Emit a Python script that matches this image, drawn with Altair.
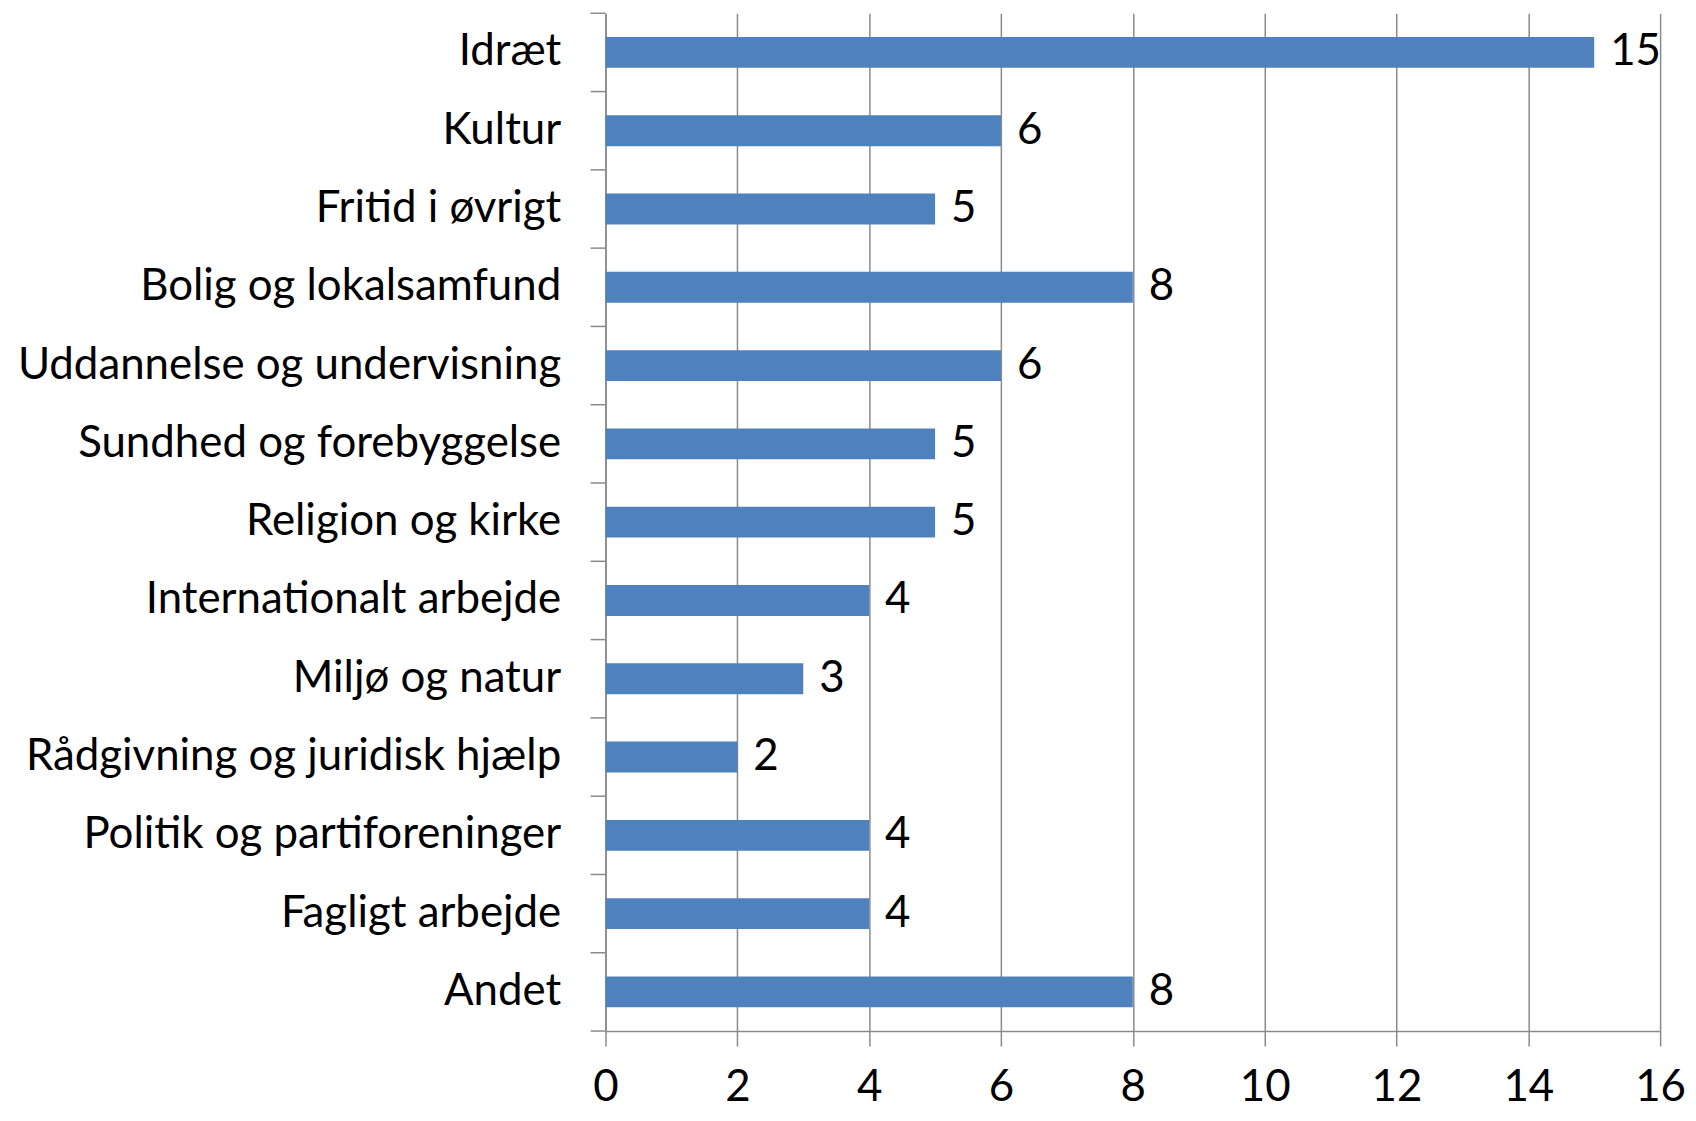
import altair as alt
import pandas as pd

categories = [
    "Idræt", "Kultur", "Fritid i øvrigt", "Bolig og lokalsamfund",
    "Uddannelse og undervisning", "Sundhed og forebyggelse", "Religion og kirke",
    "Internationalt arbejde", "Miljø og natur", "Rådgivning og juridisk hjælp",
    "Politik og partiforeninger", "Fagligt arbejde", "Andet",
]
values = [15, 6, 5, 8, 6, 5, 5, 4, 3, 2, 4, 4, 8]
x_ticks = [0, 2, 4, 6, 8, 10, 12, 14, 16]

df = pd.DataFrame({"kategori": categories, "antal": values})
df_last = df.tail(1)

FONT = "Lato"
FS = 44
GRAY = "#8a8a8a"

yscale = alt.Scale(paddingInner=0, paddingOuter=0)

y_axis = alt.Axis(
    title=None, ticks=False, domain=True, domainColor=GRAY, domainWidth=1.5,
    labelFont=FONT, labelFontSize=FS, labelColor="black", labelPadding=45,
    labelLimit=1000,
)

x_enc = alt.X(
    "antal:Q",
    scale=alt.Scale(domain=[0, 16], nice=False),
    axis=alt.Axis(
        values=x_ticks, format="d", title=None, grid=True, gridColor=GRAY,
        gridWidth=1.5, domainColor=GRAY, domainWidth=1.5, tickColor=GRAY,
        tickWidth=1.5, tickSize=15, labelFont=FONT, labelFontSize=FS,
        labelColor="black", labelPadding=20, labelFlush=False,
    ),
)

base = alt.Chart(df)

bars = base.mark_bar(size=31, color="#4F81BD").encode(
    x=x_enc,
    y=alt.Y("kategori:N", sort=categories, scale=yscale, axis=y_axis),
)

labels = base.mark_text(
    align="left", baseline="middle", dx=16, font=FONT, fontSize=FS, color="black"
).encode(
    x="antal:Q",
    y=alt.Y("kategori:N", sort=categories),
    text="antal:Q",
)

ticks_top = base.mark_rule(color=GRAY, strokeWidth=1.5).encode(
    y=alt.Y("kategori:N", sort=categories, bandPosition=0),
    x=alt.value(-15),
    x2=alt.value(0),
)

ticks_bottom = alt.Chart(df_last).mark_rule(color=GRAY, strokeWidth=1.5).encode(
    y=alt.Y("kategori:N", sort=categories, bandPosition=1),
    x=alt.value(-15),
    x2=alt.value(0),
)

chart = (
    alt.layer(bars, labels, ticks_top, ticks_bottom)
    .properties(
        width=1059,
        height=1022,
        autosize=alt.AutoSizeParams(type="none"),
        padding={"left": 600, "top": 3, "right": 28, "bottom": 80},
    )
    .configure_view(stroke=None)
)

chart.save("out.html", embed_options={"renderer": "svg", "actions": False})
